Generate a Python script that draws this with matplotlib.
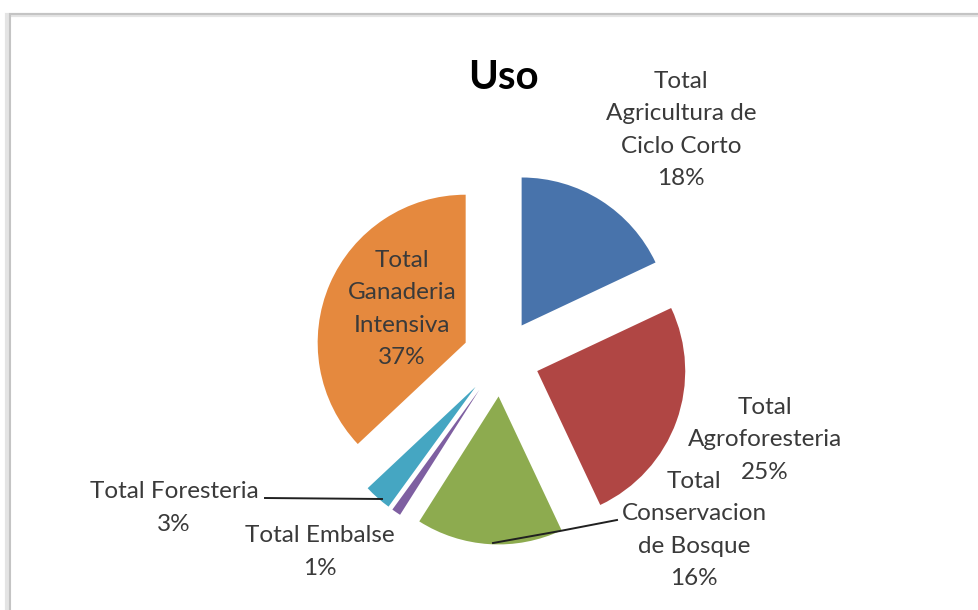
import matplotlib.pyplot as plt
from matplotlib.patches import Rectangle

# Uso del suelo, porcentaje por tipo
categories = ['Total Agricultura de Ciclo Corto', 'Total Agroforesteria',
              'Total Conservacion de Bosque', 'Total Embalse',
              'Total Foresteria', 'Total Ganaderia Intensiva']
percentages = [18, 25, 16, 1, 3, 37]
label_lines = ['Total\nAgricultura de\nCiclo Corto', 'Total\nAgroforesteria',
               'Total\nConservacion\nde Bosque', 'Total Embalse',
               'Total Foresteria', 'Total\nGanaderia\nIntensiva']
colors = ['#4873AB', '#B04644', '#8DAB4F', '#7E5FA1', '#45A6C2', '#E5893E']

W, H = 979, 610
plt.rcParams['font.family'] = ['Lato', 'DejaVu Sans']

fig = plt.figure(figsize=(W / 100, H / 100), dpi=100)
ax = fig.add_axes([0, 0, 1, 1])


def px(x, y):
    # pixel position (from top-left) to data coords
    return x, H - y


# chart frame with a soft shadow on the left
fig.patches.append(Rectangle((7, -10), 1000, H - 5, transform=None,
                             fill=False, edgecolor='#e4e4e4', linewidth=3))
fig.patches.append(Rectangle((10, -10), 1000, H - 4, transform=None,
                             fill=False, edgecolor='#c4c4c4', linewidth=1.5))

wedges, _ = ax.pie(percentages, colors=colors, startangle=90, counterclock=False,
                   radius=148, center=px(501, 358),
                   explode=[38.5] * len(percentages),
                   wedgeprops=dict(linewidth=0))

ax.set_xlim(0, W)
ax.set_ylim(0, H)
ax.set_aspect('equal')
ax.axis('off')

ax.text(*px(503, 77), 'Uso', fontsize=29, fontweight='bold', color='black',
        ha='center', va='center')

# label positions (centre of each text block)
label_pos = [(681, 130), (765, 440), (694, 530), (320, 552), (174, 508), (402, 309)]
for name, pct, (lx, ly) in zip(label_lines, percentages, label_pos):
    ax.text(*px(lx, ly), f'{name}\n{pct}%', fontsize=17.5, color='#3a3a3a',
            ha='center', va='center', linespacing=1.66)

# leader lines
ax.plot(*zip(px(265, 498), px(382, 499)), color='#202020', lw=1.4)
ax.plot(*zip(px(493, 543), px(560, 531), px(617, 520)), color='#202020', lw=1.4)

fig.savefig('out.png', dpi=100)
